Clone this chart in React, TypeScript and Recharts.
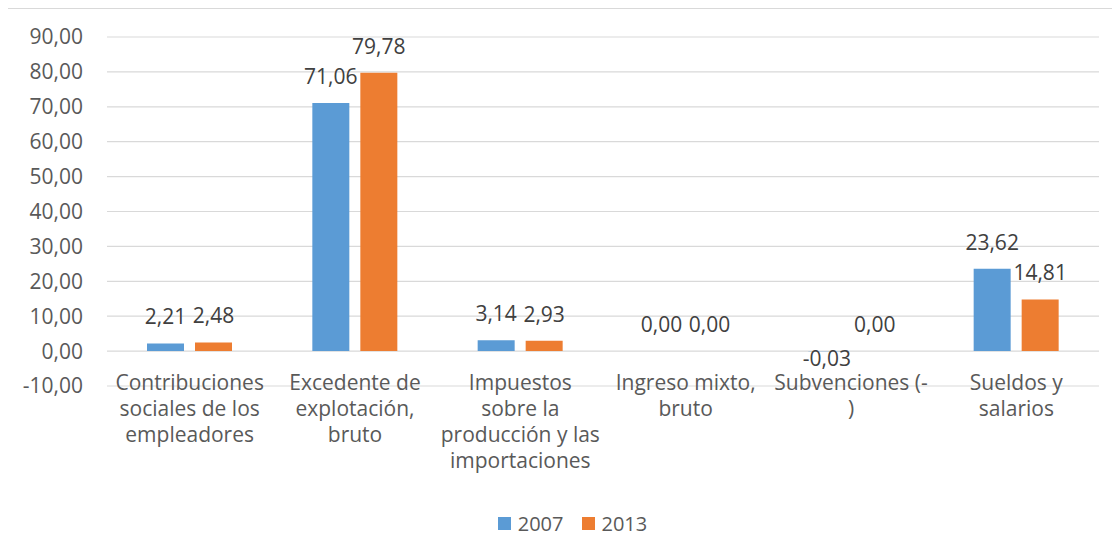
import React from "react";
import { BarChart, Bar, XAxis, YAxis, CartesianGrid, Legend, LabelList } from "recharts";

const categories = [
  "Contribuciones sociales de los empleadores",
  "Excedente de explotación, bruto",
  "Impuestos sobre la producción y las importaciones",
  "Ingreso mixto, bruto",
  "Subvenciones (-)",
  "Sueldos y salarios",
];
const categoryLines = [
  ["Contribuciones", "sociales de los", "empleadores"],
  ["Excedente de", "explotación,", "bruto"],
  ["Impuestos", "sobre la", "producción y las", "importaciones"],
  ["Ingreso mixto,", "bruto"],
  ["Subvenciones (-", ")"],
  ["Sueldos y", "salarios"],
];
const values2007 = [2.21, 71.06, 3.14, 0.0, -0.03, 23.62];
const values2013 = [2.48, 79.78, 2.93, 0.0, 0.0, 14.81];
const yTicks = [-10, 0, 10, 20, 30, 40, 50, 60, 70, 80, 90];

const data = categories.map((c, i) => ({
  name: c,
  idx: i,
  y2007: values2007[i],
  y2013: values2013[i],
}));

const FONT = "'Open Sans', sans-serif";
const TEXT = "#595959";
const fmt = (v: number) => Number(v).toFixed(2).replace(".", ",");

const XTick = (props: any) => {
  const { x, y, payload } = props;
  const i = categories.indexOf(payload.value);
  const lines = i >= 0 ? categoryLines[i] : [String(payload.value)];
  return (
    <text x={x} y={y} textAnchor="middle" fill={TEXT} fontSize={21} fontFamily={FONT}>
      {lines.map((l, k) => (
        <tspan key={k} x={x} dy={k === 0 ? 4 : 26}>
          {l}
        </tspan>
      ))}
    </text>
  );
};

const BarLabel = (props: any) => {
  const { x, y, width, height, value } = props;
  const xx = Number(x) + Number(width) / 2;
  const top = Math.min(Number(y), Number(y) + Number(height));
  const bottom = Math.max(Number(y), Number(y) + Number(height));
  const v = Number(value);
  const ty = v < 0 ? bottom + 15 : top - 19;
  return (
    <text x={xx} y={ty} textAnchor="middle" fill="#404040" fontSize={21} fontFamily={FONT}>
      {fmt(v)}
    </text>
  );
};

const LegendContent = (props: any) => {
  const { payload } = props;
  return (
    <div
      style={{
        display: "flex",
        justifyContent: "center",
        alignItems: "center",
        height: 26,
        fontFamily: FONT,
        fontSize: 20,
        color: TEXT,
      }}
    >
      {(payload || []).map((p: any, i: number) => (
        <div key={i} style={{ display: "flex", alignItems: "center", marginLeft: i ? 18 : 0 }}>
          <span style={{ display: "inline-block", width: 13, height: 13, background: p.color, marginRight: 7 }} />
          <span>{p.value}</span>
        </div>
      ))}
    </div>
  );
};

const tinyMin = (v: any) => (Number(Array.isArray(v) ? v[1] - v[0] : v) === 0 ? 0.01 : 0);

export default function App() {
  return (
    <div
      style={{
        position: "relative",
        marginLeft: -1,
        width: 1112,
        height: 538,
        borderTop: "1px solid #d9d9d9",
        borderLeft: "1px solid #d9d9d9",
        boxSizing: "border-box",
        background: "#fff",
      }}
    >
      <BarChart
        width={1111}
        height={537}
        data={data}
        margin={{ top: 28, right: 20, left: 0, bottom: 0 }}
        barSize={37}
        barGap={11}
        style={{ fontFamily: FONT }}
      >
        <CartesianGrid vertical={false} stroke="#d9d9d9" strokeWidth={1.2} />
        <XAxis
          dataKey="name"
          height={160}
          axisLine={false}
          tickLine={false}
          tickSize={0}
          tickMargin={0}
          interval={0}
          tick={<XTick />}
        />
        <YAxis
          width={99}
          domain={[-10, 90]}
          ticks={yTicks}
          interval={0}
          axisLine={false}
          tickLine={false}
          tickSize={0}
          tickMargin={24}
          tickFormatter={fmt}
          tick={{ fill: TEXT, fontSize: 21, fontFamily: FONT }}
        />
        <Legend
          verticalAlign="middle"
          content={<LegendContent />}
          wrapperStyle={{ top: 501, left: 18, width: 1093 }}
        />
        <Bar dataKey="y2007" name="2007" fill="#5B9BD5" minPointSize={tinyMin} isAnimationActive={false}>
          <LabelList dataKey="y2007" content={<BarLabel />} />
        </Bar>
        <Bar dataKey="y2013" name="2013" fill="#ED7D31" minPointSize={tinyMin} isAnimationActive={false}>
          <LabelList dataKey="y2013" content={<BarLabel />} />
        </Bar>
      </BarChart>
    </div>
  );
}
